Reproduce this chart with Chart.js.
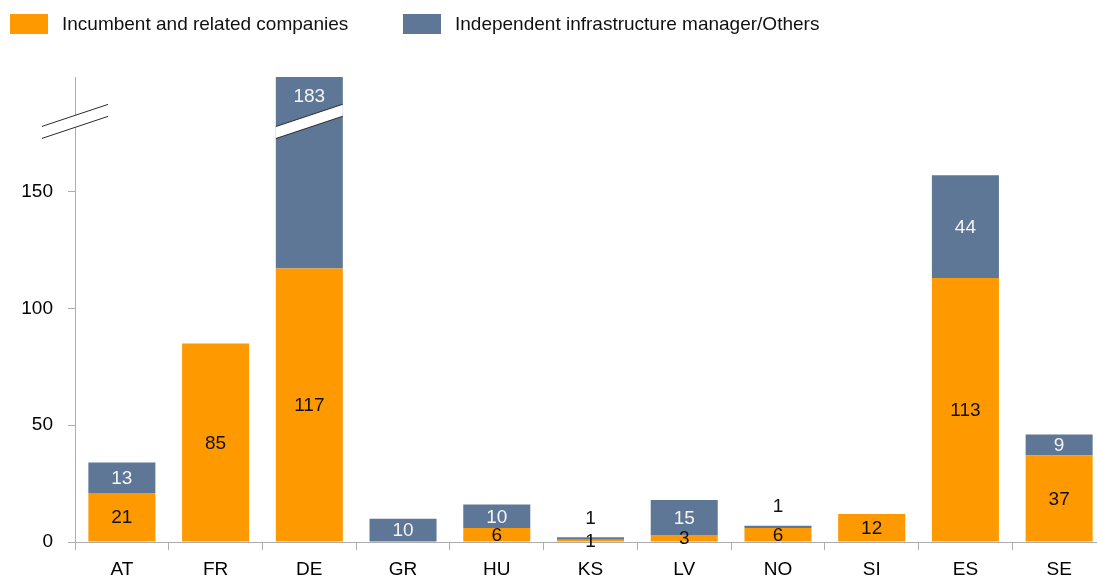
<!DOCTYPE html>
<html>
<head>
<meta charset="utf-8">
<script src="https://cdn.jsdelivr.net/npm/chart.js@4"></script>
<style>
  html, body { margin: 0; padding: 0; background: #fff; overflow: hidden; }
  #wrap { position: relative; width: 1106px; height: 580px; }
  #chart { display: block; }
  #legend { position: absolute; left: 10px; top: 13px; display: flex; align-items: center;
            font-family: "Liberation Sans", Arial, sans-serif; font-size: 19px; color: #111; }
  .item { display: flex; align-items: center; }
  .box { width: 38px; height: 20px; margin-right: 14px; flex: none; }
  #legend .item:first-child { width: 393px; }
</style>
</head>
<body>
<div id="wrap">
  <div id="legend"></div>
  <canvas id="chart" width="1106" height="580"></canvas>
</div>
<script>
// Dati
const countries = ['AT', 'FR', 'DE', 'GR', 'HU', 'KS', 'LV', 'NO', 'SI', 'ES', 'SE'];
const incumbent = [21, 85, 117, 0, 6, 1, 3, 6, 12, 113, 37];
const independent = [13, 0, 183, 10, 10, 1, 15, 1, 0, 44, 9];
const seriesNames = ['Incumbent and related companies', 'Independent infrastructure manager/Others'];
const seriesColors = ['#FF9900', '#5E7796'];
const yTicks = [0, 50, 100, 150];
const axisMax = 199;   // asse interrotto
const breakAt = 180;   // valore dove cade l'interruzione

const FONT = '"Liberation Sans", Arial, sans-serif';

// Legenda HTML
const legend = document.getElementById('legend');
seriesNames.forEach((name, i) => {
  const item = document.createElement('div');
  item.className = 'item';
  item.innerHTML = '<div class="box" style="background:' + seriesColors[i] + '"></div><span>' + name + '</span>';
  legend.appendChild(item);
});

// Disegna il segno di interruzione (due linee oblique con fascia bianca)
function drawBreak(ctx, cx, half, yc) {
  const dy = half / 3, gap = 6;
  ctx.beginPath();
  ctx.moveTo(cx - half, yc + dy - gap);
  ctx.lineTo(cx + half, yc - dy - gap);
  ctx.lineTo(cx + half, yc - dy + gap);
  ctx.lineTo(cx - half, yc + dy + gap);
  ctx.closePath();
  ctx.fillStyle = '#fff';
  ctx.fill();
  ctx.strokeStyle = '#2a2a2a';
  ctx.lineWidth = 1;
  ctx.beginPath();
  ctx.moveTo(cx - half, yc + dy - gap);
  ctx.lineTo(cx + half, yc - dy - gap);
  ctx.moveTo(cx - half, yc + dy + gap);
  ctx.lineTo(cx + half, yc - dy + gap);
  ctx.stroke();
}

const breaksAndLabels = {
  id: 'breaksAndLabels',
  afterDatasetsDraw(chart) {
    const ctx = chart.ctx, area = chart.chartArea, y = chart.scales.y;
    const yc = y.getPixelForValue(breakAt);
    ctx.save();
    drawBreak(ctx, area.left, 33, yc);
    chart.data.datasets.forEach((ds, i) => {
      chart.getDatasetMeta(i).data.forEach((bar, j) => {
        if (bar.y < area.top) drawBreak(ctx, bar.x, bar.width / 2, yc);
      });
    });

    ctx.font = '19px ' + FONT;
    ctx.textAlign = 'center';
    ctx.textBaseline = 'middle';
    chart.data.datasets.forEach((ds, i) => {
      chart.getDatasetMeta(i).data.forEach((bar, j) => {
        const v = ds.data[j];
        if (!v) return;
        const top = bar.y, bottom = bar.base;
        let cy, color = i === 0 ? '#111' : '#f4f4f4';
        if (top < area.top) {
          cy = (area.top + yc - 6) / 2;
        } else if (i === 1 && bottom - top < 8) {
          cy = top - 20;
          color = '#111';
        } else {
          cy = (top + bottom) / 2;
        }
        ctx.fillStyle = color;
        ctx.fillText(String(v), bar.x, cy + 1);
      });
    });
    ctx.restore();
  }
};

new Chart(document.getElementById('chart'), {
  type: 'bar',
  data: {
    labels: countries,
    datasets: [
      { label: seriesNames[0], data: incumbent, backgroundColor: seriesColors[0],
        barPercentage: 0.715, categoryPercentage: 1 },
      { label: seriesNames[1], data: independent, backgroundColor: seriesColors[1],
        barPercentage: 0.715, categoryPercentage: 1 }
    ]
  },
  options: {
    responsive: false,
    animation: false,
    layout: { padding: { top: 77, left: 0, right: 0, bottom: 0 } },
    plugins: { legend: { display: false }, tooltip: { enabled: false } },
    scales: {
      x: {
        stacked: true,
        grid: { drawOnChartArea: false, color: '#adadad', tickLength: 8, offset: true },
        border: { color: '#adadad' },
        ticks: { color: '#000', font: { size: 19, family: FONT }, padding: 8 },
        afterFit(s) { s.height = 38; }
      },
      y: {
        stacked: true,
        min: 0,
        max: axisMax,
        grid: { drawOnChartArea: false, color: '#adadad', tickLength: 7 },
        border: { color: '#adadad' },
        ticks: { color: '#000', font: { size: 19, family: FONT }, padding: 15 },
        afterBuildTicks(s) { s.ticks = yTicks.map(v => ({ value: v })); },
        afterFit(s) { s.width = 75; }
      }
    }
  },
  plugins: [breaksAndLabels]
});
</script>
</body>
</html>
